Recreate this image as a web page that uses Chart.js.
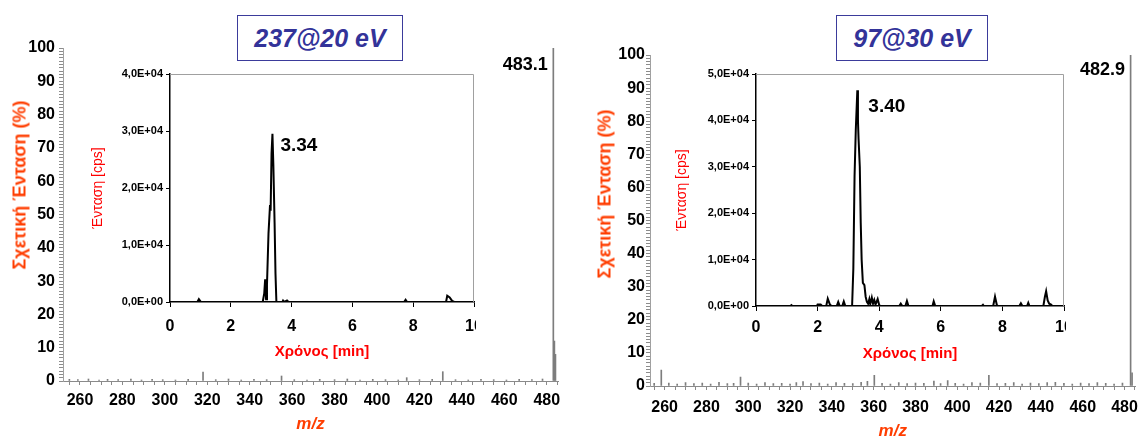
<!DOCTYPE html>
<html><head><meta charset="utf-8">
<script src="https://cdn.jsdelivr.net/npm/chart.js@4/dist/chart.umd.min.js"></script>
<style>
html,body{margin:0;padding:0;background:#fff;width:1143px;height:437px;overflow:hidden;position:relative;font-family:'Liberation Sans',Arial,sans-serif}
canvas{position:absolute;left:0;top:0}
.wrap{position:absolute;overflow:hidden}
.tbox{position:absolute;border:1.5px solid #3b3b9b;color:#333399;font-weight:bold;font-style:italic;font-size:25px;display:flex;align-items:center;justify-content:center;box-sizing:border-box;background:#fff}
.ytitle{position:absolute;color:#ff3d00;font-weight:bold;font-size:18px;white-space:nowrap;transform:translate(-50%,-50%) rotate(-90deg)}
</style></head><body>

<div class="wrap" style="left:0;top:0;width:575px;height:437px"><canvas id="specL" width="575" height="437"></canvas></div>
<div class="wrap" style="left:580px;top:0;width:563px;height:437px"><canvas id="specR" width="563" height="437"></canvas></div>
<div class="wrap" style="left:85px;top:60px;width:391px;height:310px"><canvas id="insL" width="420" height="310"></canvas></div>
<div class="wrap" style="left:670px;top:60px;width:396px;height:315px"><canvas id="insR" width="425" height="315"></canvas></div>

<div class="tbox" style="left:237px;top:15px;width:166px;height:46px">237@20 eV</div>
<div class="tbox" style="left:836px;top:15px;width:152px;height:46px">97@30 eV</div>
<div class="ytitle" style="left:20px;top:185px">Σχετική Ένταση (%)</div>
<div class="ytitle" style="left:605px;top:194px">Σχετική Ένταση (%)</div>

<script>
// ---------- DATA ----------
const MZ_LABELS = [260, 280, 300, 320, 340, 360, 380, 400, 420, 440, 460, 480];
const MZ_MINOR = [255, 260, 265, 270, 275, 280, 285, 290, 295, 300, 305, 310, 315, 320, 325, 330, 335, 340, 345, 350, 355, 360, 365, 370, 375, 380, 385, 390, 395, 400, 405, 410, 415, 420, 425, 430, 435, 440, 445, 450, 455, 460, 465, 470, 475, 480, 485];
const REL_LABELS = [0, 10, 20, 30, 40, 50, 60, 70, 80, 90, 100];

const LEFT_MZ = [255, 259, 264, 269, 273, 278, 284, 289, 294, 299, 305, 311, 318, 324, 330, 336, 342, 348, 355, 361, 367, 373, 380, 386, 392, 398, 404, 410, 414, 420, 426, 431, 437, 443, 449, 455, 461, 467, 473, 478, 483.1, 483.6, 484.1];
const LEFT_REL = [0.5, 0.4, 0.6, 0.3, 0.5, 0.4, 0.6, 0.3, 0.5, 0.4, 0.3, 0.5, 2.7, 0.4, 0.6, 0.3, 0.5, 0.4, 1.5, 0.4, 0.3, 0.5, 0.4, 0.6, 0.3, 0.5, 0.4, 0.3, 1.0, 0.4, 0.5, 2.8, 0.4, 0.3, 0.5, 0.4, 0.3, 0.5, 0.4, 0.6, 100, 12, 8];

const RIGHT_MZ = [255, 258.4, 262, 266, 270, 274, 278, 282, 286, 290, 293, 296.3, 300, 304, 308, 312, 316, 320, 323, 326.2, 330, 334, 338, 342, 346, 350, 354, 357, 360.3, 364, 368, 372, 376, 380, 384, 388.8, 392, 395.4, 399, 403, 407, 411, 415.1, 419, 423, 427, 431, 435, 439, 443, 446.9, 451, 455, 459, 463, 467, 471, 475, 479, 482.9, 483.6];
const RIGHT_REL = [0.8, 4.8, 0.9, 0.6, 1.0, 0.7, 0.9, 0.6, 1.1, 0.7, 0.8, 2.7, 0.9, 0.6, 1.0, 0.7, 0.8, 0.6, 1.0, 1.3, 0.7, 0.9, 0.6, 1.0, 0.8, 0.7, 1.1, 1.4, 4.8, 0.8, 0.6, 1.0, 0.7, 0.9, 0.8, 1.5, 0.7, 1.6, 0.8, 0.6, 1.0, 0.9, 4.8, 0.7, 0.8, 1.0, 0.6, 0.9, 0.7, 1.0, 1.1, 0.8, 0.6, 0.9, 0.7, 1.0, 0.8, 0.6, 0.9, 100, 4];

const LEFT_T = [0, 0.90, 0.95, 1.02, 3.05, 3.10, 3.13, 3.16, 3.19, 3.24, 3.29, 3.31, 3.34, 3.37, 3.40, 3.44, 3.47, 3.50, 3.70, 3.72, 3.76, 3.85, 3.90, 7.70, 7.75, 7.80, 9.08, 9.12, 9.20, 9.28, 9.35, 10.0];
const LEFT_CPS = [0, 0, 500, 0, 0, 1500, 4000, 500, 3000, 12000, 17000, 16000, 26000, 29500, 24000, 14000, 5000, 0, 0, 250, 0, 250, 0, 0, 400, 0, 0, 1100, 800, 200, 0, 0];

const RIGHT_T = [0, 1.12, 1.15, 1.18, 1.98, 2.00, 2.10, 2.15, 2.28, 2.33, 2.40, 2.45, 2.62, 2.67, 2.72, 2.80, 2.85, 2.90, 3.12, 3.16, 3.20, 3.24, 3.29, 3.31, 3.33, 3.37, 3.40, 3.43, 3.47, 3.52, 3.56, 3.60, 3.64, 3.68, 3.71, 3.76, 3.80, 3.84, 3.88, 3.95, 4.00, 4.05, 4.65, 4.70, 4.75, 4.85, 4.90, 4.95, 5.73, 5.77, 5.82, 7.33, 7.37, 7.40, 7.70, 7.76, 7.82, 7.86, 8.55, 8.60, 8.65, 8.80, 8.84, 8.88, 9.33, 9.38, 9.42, 9.47, 9.52, 9.58, 9.62, 10.0];
const RIGHT_CPS = [0, 0, 200, 0, 0, 300, 300, 0, 0, 1600, 300, 0, 0, 900, 0, 0, 1000, 0, 0, 8000, 28000, 38000, 46500, 40000, 36000, 30000, 18000, 10000, 5000, 4500, 2000, 900, 500, 1500, 400, 1800, 500, 1300, 300, 1500, 200, 0, 0, 500, 0, 0, 1100, 0, 0, 1000, 0, 0, 250, 0, 0, 2000, 200, 0, 0, 600, 0, 0, 700, 0, 0, 2000, 3200, 1200, 500, 300, 0, 0];

const LEFT_PEAK_MZ_LABEL = '483.1';
const RIGHT_PEAK_MZ_LABEL = '482.9';
const LEFT_RT_LABEL = '3.34';
const RIGHT_RT_LABEL = '3.40';

// ---------- CHARTS ----------
Chart.defaults.font.family = "'Liberation Sans', Arial, sans-serif";
Chart.defaults.color = '#000';

const peakLabel = {
  id: 'peakLabel',
  afterDatasetsDraw(chart, args, opts) {
    if (!opts || !opts.text) return;
    const pts = chart.data.datasets[0].data;
    let bi = 0;
    pts.forEach((p, i) => { if (p.y > pts[bi].y) bi = i; });
    const x = chart.scales.x.getPixelForValue(pts[bi].x);
    const y = chart.scales.y.getPixelForValue(pts[bi].y);
    const ctx = chart.ctx;
    ctx.save();
    ctx.font = opts.font;
    ctx.fillStyle = '#000';
    ctx.textAlign = opts.align || 'center';
    ctx.textBaseline = 'middle';
    ctx.fillText(opts.text, x + opts.dx, y + opts.dy);
    ctx.restore();
  }
};

const frame = {
  id: 'frame',
  beforeDraw(chart) {
    const ctx = chart.ctx;
    ctx.save(); ctx.fillStyle = '#fff'; ctx.fillRect(0, 0, chart.width, chart.height); ctx.restore();
  },
  afterDraw(chart) {
    const a = chart.chartArea, ctx = chart.ctx;
    ctx.save();
    ctx.strokeStyle = '#a0a0a0'; ctx.lineWidth = 1;
    ctx.beginPath();
    ctx.moveTo(a.left, a.top + 0.5); ctx.lineTo(a.right - 0.5, a.top + 0.5); ctx.lineTo(a.right - 0.5, a.bottom);
    ctx.stroke();
    ctx.restore();
  }
};

function sci(v) {
  if (v === 0) return '0,0E+00';
  const e = Math.floor(Math.log10(v) + 1e-9);
  const m = v / Math.pow(10, e);
  return m.toFixed(1).replace('.', ',') + 'E+' + String(e).padStart(2, '0');
}

function spectrum(id, mz, rel, c) {
  return new Chart(document.getElementById(id), {
    type: 'bar',
    data: { datasets: [{ data: mz.map((m, i) => ({ x: m, y: rel[i] })), backgroundColor: '#7d7d7d', borderWidth: 0, barThickness: 1 }] },
    options: {
      responsive: false, animation: false, devicePixelRatio: 1,
      layout: { padding: { top: c.top, right: c.right, left: 0, bottom: 0 } },
      plugins: {
        legend: { display: false }, tooltip: { enabled: false },
        peakLabel: { text: c.peakText, dx: c.dx, dy: c.dy, font: "bold 18px 'Liberation Sans', Arial, sans-serif" }
      },
      scales: {
        x: {
          type: 'linear', min: c.min, max: c.max, offset: false,
          afterBuildTicks: s => { s.ticks = MZ_MINOR.map(v => ({ value: v })); },
          ticks: { autoSkip: false, maxRotation: 0, padding: c.xpad, font: { size: 16, weight: 'bold' },
            callback: v => MZ_LABELS.includes(v) ? String(v) : '' },
          grid: { drawOnChartArea: false, tickLength: 4, color: '#8a8a8a', offset: false },
          border: { color: '#8a8a8a' },
          title: { display: true, text: 'm/z', color: '#ff3d00', font: { size: 17, weight: 'bold', style: 'italic' }, padding: { top: 0, bottom: c.tb } },
          afterFit: s => { s.height = c.xh; }
        },
        y: {
          min: 0, max: 100,
          afterBuildTicks: s => { const t = []; for (let v = 0; v <= 100; v++) t.push({ value: v }); s.ticks = t; },
          ticks: { autoSkip: false, padding: c.ypad, font: { size: 16, weight: 'bold' },
            callback: v => REL_LABELS.includes(v) ? String(v) : '' },
          grid: { drawOnChartArea: false, tickLength: 4, color: '#8c8c8c' },
          border: { color: '#a0a0a0' },
          afterFit: s => { s.width = c.yw; }
        }
      }
    },
    plugins: [peakLabel]
  });
}

function inset(id, t, cps, c) {
  return new Chart(document.getElementById(id), {
    type: 'line',
    data: { datasets: [{ data: t.map((v, i) => ({ x: v, y: cps[i] })), borderColor: '#000', borderWidth: 2, pointRadius: 0, tension: 0, fill: false }] },
    options: {
      responsive: false, animation: false, devicePixelRatio: 1,
      layout: { padding: { top: c.top, right: c.right, left: 0, bottom: 0 } },
      plugins: {
        legend: { display: false }, tooltip: { enabled: false },
        peakLabel: { text: c.peakText, dx: c.dx, dy: c.dy, align: 'left', font: "bold 19px 'Liberation Sans', Arial, sans-serif" }
      },
      scales: {
        x: {
          type: 'linear', min: 0, max: 10,
          ticks: { stepSize: 2, autoSkip: false, maxRotation: 0, padding: c.xpad, font: { size: 16, weight: 'bold' } },
          grid: { drawOnChartArea: false, tickLength: 5, color: '#000' },
          border: { color: '#000', width: 1.5 },
          title: { display: true, text: 'Χρόνος [min]', color: '#ff0000', font: { size: 15, weight: 'bold' }, padding: { top: 0, bottom: c.xtb } },
          afterFit: s => { s.height = c.xh; }
        },
        y: {
          min: 0, max: c.ymax,
          ticks: { stepSize: 10000, padding: 3, font: { size: 11, weight: 'bold' }, callback: v => sci(v) },
          grid: { drawOnChartArea: false, tickLength: 4, color: '#000' },
          border: { color: '#000', width: 1.5 },
          title: { display: true, text: 'Ένταση [cps]', color: '#ff0000', font: { size: 14 }, padding: { top: c.ytp, bottom: 0 } },
          afterFit: s => { s.width = c.yw; }
        }
      }
    },
    plugins: [frame, peakLabel]
  });
}

spectrum('specL', LEFT_MZ, LEFT_REL, { top: 48, right: 17, min: 252, max: 485.3, xpad: 6, tb: 2, xh: 56, ypad: 4, yw: 63, peakText: LEFT_PEAK_MZ_LABEL, dx: -28, dy: 17 });
spectrum('specR', RIGHT_MZ, RIGHT_REL, { top: 55, right: 2, min: 253, max: 485.2, xpad: 8, tb: -5, xh: 51, ypad: 1, yw: 70, peakText: RIGHT_PEAK_MZ_LABEL, dx: -28, dy: 15 });
inset('insL', LEFT_T, LEFT_CPS, { top: 14, right: 31, ymax: 40000, xpad: 10, xtb: 9, xh: 68, ytp: 5, yw: 85, peakText: LEFT_RT_LABEL, dx: 8, dy: 12 });
inset('insR', RIGHT_T, RIGHT_CPS, { top: 14, right: 31, ymax: 50000, xpad: 7, xtb: 12, xh: 69, ytp: 4, yw: 86, peakText: RIGHT_RT_LABEL, dx: 11, dy: 17 });
</script>
</body></html>
